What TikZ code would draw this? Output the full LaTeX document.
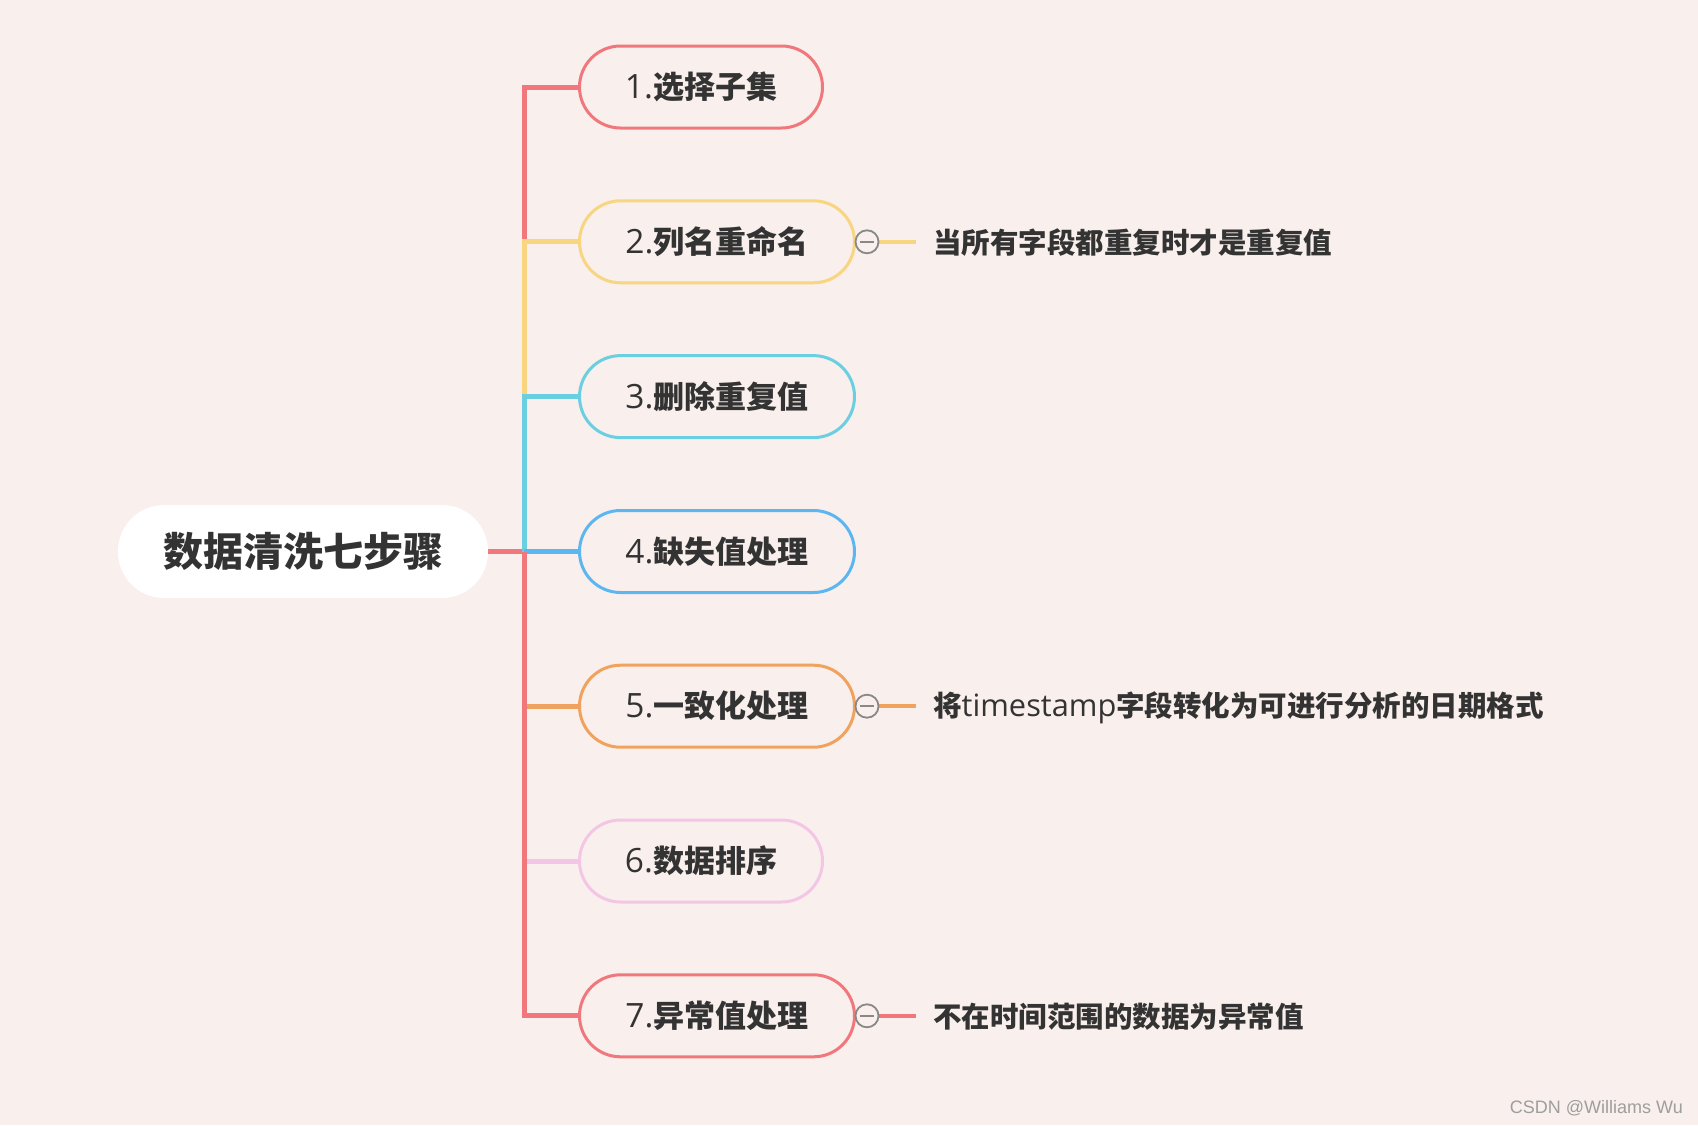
\documentclass[tikz,border=0pt]{standalone}
\usepackage{fontspec}
\usetikzlibrary{backgrounds}
\setmainfont{Open Sans}[Scale=1.08]
\newfontfamily\cjk{Noto Sans CJK SC}
\newfontfamily\wmfont{Liberation Sans}
\newcommand{\cj}[1]{{\cjk\bfseries #1}}
\definecolor{bgc}{HTML}{F9EFEC}
\definecolor{cred}{HTML}{F0787C}
\definecolor{cyel}{HTML}{F8D581}
\definecolor{ccya}{HTML}{6ACFE0}
\definecolor{cblu}{HTML}{5CB6F0}
\definecolor{cora}{HTML}{EFA35E}
\definecolor{cpin}{HTML}{F4C6E6}
\definecolor{txt}{HTML}{333333}
\definecolor{togc}{HTML}{888888}
\tikzset{
  rootbox/.style={fill=white, rounded corners=46pt, minimum height=93pt, minimum width=370pt, inner sep=0pt, text=txt, font=\fontsize{40}{40}\selectfont},
  childbox/.style={draw=#1, line width=3pt, fill=bgc, rounded corners=41pt, minimum height=82pt, inner sep=0pt, anchor=west, text=txt, font=\fontsize{31}{31}\selectfont},
  narrow/.style={minimum width=243pt},
  wide/.style={minimum width=275pt},
  branch/.style={draw=#1, line width=5pt},
  subline/.style={draw=#1, line width=3.5pt},
  toggle/.style={circle, draw=togc, line width=1.8pt, fill=bgc, minimum size=23pt, inner sep=0pt,
    path picture={\draw[togc, line width=1.8pt] ([xshift=-7pt]path picture bounding box.center) -- ([xshift=7pt]path picture bounding box.center);}},
  subtext/.style={anchor=west, inner sep=0pt, text=txt, font=\fontsize{28.5}{28.5}\selectfont},
}
\begin{document}
\begin{tikzpicture}[x=1pt,y=-1pt]
\useasboundingbox (0,0) rectangle (1698,1125);

\node[rootbox] (root) at (303,551.5) {\raisebox{-1.5pt}{\cj{数据清洗七步骤}}};
\coordinate (J) at (524,551.5);

\node[childbox=cred, narrow] (n1) at (578,87) {1.\cj{选择子集}};
\node[childbox=cyel, wide] (n2) at (578,241.8) {2.\cj{列名重命名}};
\node[childbox=ccya, wide] (n3) at (578,396.6) {3.\cj{删除重复值}};
\node[childbox=cblu, wide] (n4) at (578,551.5) {4.\cj{缺失值处理}};
\node[childbox=cora, wide] (n5) at (578,706.2) {5.\cj{一致化处理}};
\node[childbox=cpin, narrow] (n6) at (578,861) {6.\cj{数据排序}};
\node[childbox=cred, wide] (n7) at (578,1015.8) {7.\cj{异常值处理}};

% sub topics
\node[subtext] (s2) at (933,243) {\cj{当所有字段都重复时才是重复值}};
\node[subtext] (s5) at (933,707.5) {\cj{将}timestamp\cj{字段转化为可进行分析的日期格式}};
\node[subtext] (s7) at (933,1017) {\cj{不在时间范围的数据为异常值}};

\begin{scope}[on background layer]
\fill[bgc] (0,0) rectangle (1698,1125);
\draw[branch=cred] (root.east) -- (J);
\draw[branch=cred] (J) |- (n1.west);
\draw[branch=cyel] (J) |- (n2.west);
\draw[branch=ccya] (J) |- (n3.west);
\draw[branch=cblu] (J) |- (n4.west);
\draw[branch=cora] (J) |- (n5.west);
\draw[branch=cpin] (J) |- (n6.west);
\draw[branch=cred] (J) |- (n7.west);
\draw[subline=cyel] (n2.east) -- ([xshift=-17pt]s2.west |- n2.east);
\draw[subline=cora] (n5.east) -- ([xshift=-17pt]s5.west |- n5.east);
\draw[subline=cred] (n7.east) -- ([xshift=-17pt]s7.west |- n7.east);
\end{scope}

\node[toggle] (t2) at (867,241.8) {};
\node[toggle] (t5) at (867,706.2) {};
\node[toggle] (t7) at (867,1015.8) {};

\node[anchor=east, inner sep=0pt, text=black!38, font=\wmfont\fontsize{18}{18}\selectfont] (wm) at (1683,1108) {CSDN @Williams Wu};
\end{tikzpicture}
\end{document}
